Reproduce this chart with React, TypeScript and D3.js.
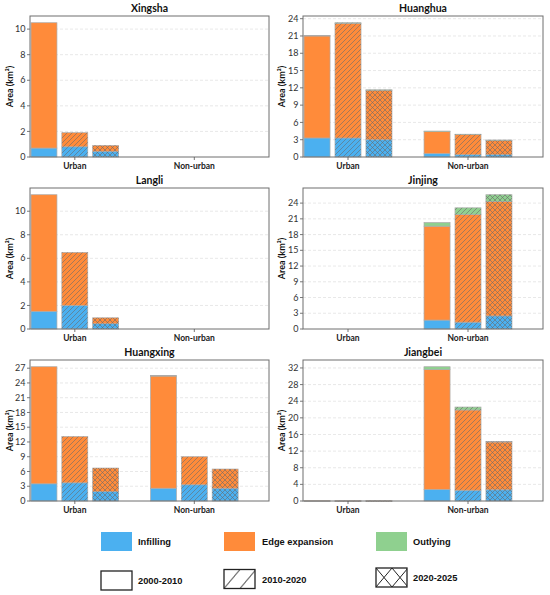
import React from "react";
import * as d3 from "d3";

const CATEGORIES = ["Urban", "Non-urban"];
const PERIODS = ["2000-2010", "2010-2020", "2020-2025"];
const TYPES = ["Infilling", "Edge expansion", "Outlying"];
const TYPE_COLORS = ["#4BB0F0", "#FF8B3A", "#8FD08F"];

// values per bar: [Urban p1, Urban p2, Urban p3, Non-urban p1, Non-urban p2, Non-urban p3]
const xingshaInfilling = [0.7, 0.8, 0.45, 0, 0, 0];
const xingshaEdge = [9.8, 1.1, 0.45, 0, 0, 0];
const xingshaOutlying = [0, 0, 0, 0, 0, 0];
const xingshaTicks = [0, 2, 4, 6, 8, 10];

const huanghuaInfilling = [3.3, 3.3, 3.0, 0.6, 0.4, 0.4];
const huanghuaEdge = [17.7, 19.9, 8.6, 3.8, 3.5, 2.5];
const huanghuaOutlying = [0.1, 0.1, 0.05, 0.1, 0.05, 0.05];
const huanghuaTicks = [0, 3, 6, 9, 12, 15, 18, 21, 24];

const langliInfilling = [1.5, 2.0, 0.45, 0, 0, 0];
const langliEdge = [9.9, 4.5, 0.5, 0, 0, 0];
const langliOutlying = [0, 0, 0, 0, 0, 0];
const langliTicks = [0, 2, 4, 6, 8, 10];

const jinjingInfilling = [0, 0, 0, 1.7, 1.3, 2.5];
const jinjingEdge = [0, 0, 0, 17.9, 20.5, 21.8];
const jinjingOutlying = [0, 0, 0, 0.7, 1.3, 1.3];
const jinjingTicks = [0, 3, 6, 9, 12, 15, 18, 21, 24];

const huangxingInfilling = [3.5, 3.7, 1.9, 2.6, 3.3, 2.6];
const huangxingEdge = [23.8, 9.4, 4.8, 22.8, 5.7, 3.9];
const huangxingOutlying = [0, 0, 0, 0.1, 0, 0];
const huangxingTicks = [0, 3, 6, 9, 12, 15, 18, 21, 24, 27];

const jiangbeiInfilling = [0.02, 0.02, 0.02, 2.8, 2.6, 2.7];
const jiangbeiEdge = [0.05, 0.03, 0.03, 28.8, 19.3, 11.5];
const jiangbeiOutlying = [0, 0, 0, 0.7, 0.7, 0.1];
const jiangbeiTicks = [0, 4, 8, 12, 16, 20, 24, 28, 32];

const PANELS = [
  { name: "Xingsha", series: [xingshaInfilling, xingshaEdge, xingshaOutlying], ticks: xingshaTicks },
  { name: "Huanghua", series: [huanghuaInfilling, huanghuaEdge, huanghuaOutlying], ticks: huanghuaTicks },
  { name: "Langli", series: [langliInfilling, langliEdge, langliOutlying], ticks: langliTicks },
  { name: "Jinjing", series: [jinjingInfilling, jinjingEdge, jinjingOutlying], ticks: jinjingTicks },
  { name: "Huangxing", series: [huangxingInfilling, huangxingEdge, huangxingOutlying], ticks: huangxingTicks },
  { name: "Jiangbei", series: [jiangbeiInfilling, jiangbeiEdge, jiangbeiOutlying], ticks: jiangbeiTicks },
];

const FONT = "Lato, 'Noto Sans', sans-serif";
const LEG_FONT = "'Liberation Sans', Arial, sans-serif";
const HATCH = [null, "hatchDiag", "hatchCross"];
const COL_X = [[30, 269], [303, 543]];
const ROW_Y = [[16, 157], [188, 329], [360, 501]];
const BAR_STEP = 0.258;
const BAR_W = 0.217;

function Panel({ panel, idx }: { panel: any; idx: number }) {
  const col = idx % 2;
  const row = Math.floor(idx / 2);
  const [x0, x1] = COL_X[col];
  const [y0, y1] = ROW_Y[row];
  const n = panel.series[0].length;
  const totals = d3.range(n).map((i) => d3.sum(panel.series, (s: number[]) => s[i]));
  const ymax = (d3.max(totals) as number) * 1.05;
  const x = d3.scaleLinear().domain([-0.375, 1.625]).range([x0, x1]);
  const y = d3.scaleLinear().domain([0, ymax]).range([y1, y0]);
  const bars: any[] = [];
  CATEGORIES.forEach((c, ci) => {
    PERIODS.forEach((p, pi) => {
      const i = ci * 3 + pi;
      const center = ci + (pi - 1) * BAR_STEP;
      let base = 0;
      panel.series.forEach((s: number[], ti: number) => {
        const v = s[i];
        if (v > 0) {
          bars.push({ key: `${ci}-${pi}-${ti}`, x: x(center - BAR_W / 2), w: x(center + BAR_W / 2) - x(center - BAR_W / 2), yTop: y(base + v), yBot: y(base), color: TYPE_COLORS[ti], hatch: HATCH[pi] });
        }
        base += v;
      });
    });
  });
  const midY = (y0 + y1) / 2;
  const labelX = col === 0 ? 10 : 282;
  return (
    <g>
      <text x={(x0 + x1) / 2} y={y0 - 4} textAnchor="middle" fontSize={10.5} fontWeight="bold" fontFamily={FONT} fill="#111">{panel.name}</text>
      {panel.ticks.map((t: number) => (
        <g key={t}>
          {t > 0 && <line x1={x0} x2={x1} y1={y(t)} y2={y(t)} stroke="#d9d9d9" strokeWidth={0.6} strokeDasharray="3,2" />}
          <line x1={x0 - 3} x2={x0} y1={y(t)} y2={y(t)} stroke="#555" strokeWidth={0.8} />
          <text x={x0 - 4.5} y={y(t) + 3.1} textAnchor="end" fontSize={9} fontFamily={FONT} fill="#333">{t}</text>
        </g>
      ))}
      {bars.map((b) => (
        <g key={b.key}>
          <rect x={b.x} y={b.yTop} width={b.w} height={Math.max(0.4, b.yBot - b.yTop)} fill={b.color} stroke="#ababab" strokeWidth={0.7} />
          {b.hatch && <rect x={b.x} y={b.yTop} width={b.w} height={Math.max(0.4, b.yBot - b.yTop)} fill={`url(#${b.hatch})`} />}
        </g>
      ))}
      <rect x={x0} y={y0} width={x1 - x0} height={y1 - y0} fill="none" stroke="#6e6e6e" strokeWidth={1} />
      {CATEGORIES.map((c, ci) => (
        <g key={c}>
          <line x1={x(ci)} x2={x(ci)} y1={y1} y2={y1 + 3} stroke="#555" strokeWidth={0.8} />
          <text x={x(ci)} y={y1 + 11.5} textAnchor="middle" fontSize={8.5} fontWeight="bold" fontFamily={FONT} fill="#222">{c}</text>
        </g>
      ))}
      <text transform={`translate(${labelX},${midY}) rotate(-90)`} textAnchor="middle" dy="0.35em" fontSize={9} fontWeight="bold" fontFamily={FONT} fill="#111">Area (km²)</text>
    </g>
  );
}

function Legend() {
  const colX = [101, 224, 376];
  const textX = [138, 262, 413];
  return (
    <g fontFamily={LEG_FONT} fontWeight="bold" fontSize={9.3} fill="#111">
      {TYPES.map((t, i) => (
        <g key={t}>
          <rect x={colX[i]} y={532} width={31} height={19} fill={TYPE_COLORS[i]} />
          <text x={textX[i]} y={544.5}>{t}</text>
        </g>
      ))}
      {PERIODS.map((p, i) => (
        <g key={p}>
          <rect x={colX[i]} y={571 - i * 1.5} width={31} height={19} fill="white" stroke="#222" strokeWidth={1.3} />
          {i > 0 && <rect x={colX[i]} y={571 - i * 1.5} width={31} height={19} fill={`url(#${i === 1 ? "legDiag" : "legCross"})`} />}
          <text x={textX[i]} y={584 - i * 1.5}>{p}</text>
        </g>
      ))}
    </g>
  );
}

export default function App() {
  return (
    <div style={{ position: "absolute", left: 0, top: 0 }}>
      <svg width={550} height={595} viewBox="0 0 550 595" style={{ display: "block", background: "white" }}>
        <defs>
          <pattern id="hatchDiag" patternUnits="userSpaceOnUse" width={5} height={5}>
            <path d="M0,5 L5,0 M-1.25,1.25 L1.25,-1.25 M3.75,6.25 L6.25,3.75" stroke="#6a6a6a" strokeWidth={0.7} strokeOpacity={0.85} />
          </pattern>
          <pattern id="hatchCross" patternUnits="userSpaceOnUse" width={5} height={5}>
            <path d="M0,5 L5,0 M-1.25,1.25 L1.25,-1.25 M3.75,6.25 L6.25,3.75 M0,0 L5,5 M-1.25,3.75 L1.25,6.25 M3.75,-1.25 L6.25,1.25" stroke="#6a6a6a" strokeWidth={0.7} strokeOpacity={0.85} />
          </pattern>
          <pattern id="legDiag" patternUnits="userSpaceOnUse" width={16} height={19} x={224} y={569.5}>
            <path d="M0,19 L16,0 M-16,19 L0,0 M16,19 L32,0" stroke="#222" strokeWidth={1} />
          </pattern>
          <pattern id="legCross" patternUnits="userSpaceOnUse" width={16} height={19} x={376} y={568}>
            <path d="M0,19 L16,0 M-16,19 L0,0 M16,19 L32,0 M0,0 L16,19 M-16,0 L0,19 M16,0 L32,19" stroke="#222" strokeWidth={1} />
          </pattern>
        </defs>
        {PANELS.map((p, i) => (
          <Panel key={p.name} panel={p} idx={i} />
        ))}
        <Legend />
      </svg>
    </div>
  );
}
